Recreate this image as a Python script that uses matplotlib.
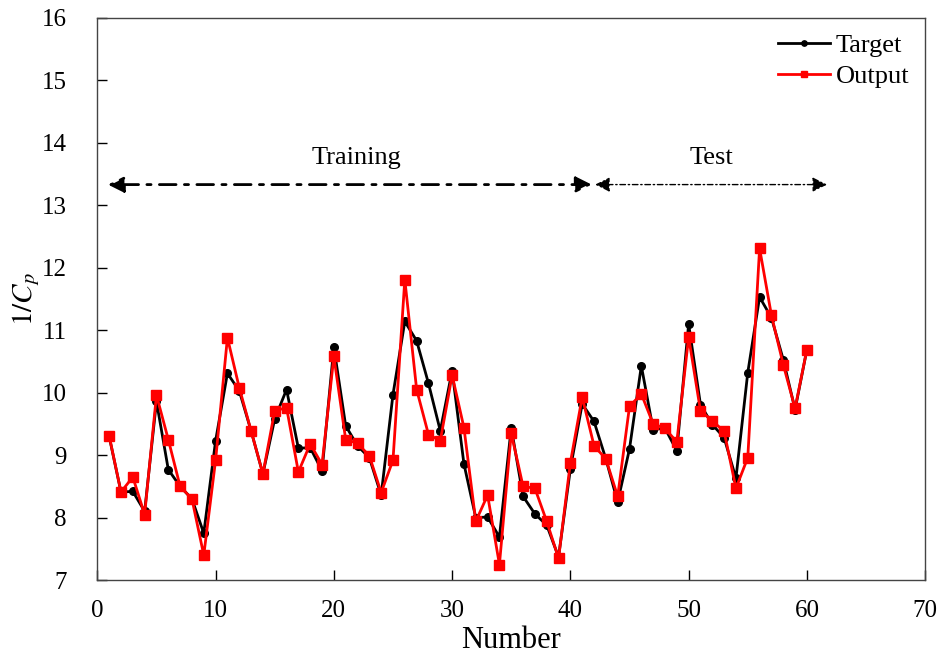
import numpy as np
import matplotlib
matplotlib.use("Agg")
import matplotlib.pyplot as plt

plt.rcParams['font.family'] = ['Liberation Serif', 'DejaVu Serif']
plt.rcParams['mathtext.fontset'] = 'stix'

# sample index 1..60
number = np.arange(1, 61)

target = [9.30, 8.41, 8.42, 8.10, 9.86, 8.77, 8.50, 8.30, 7.75, 9.23,
          10.31, 10.03, 9.39, 8.70, 9.58, 10.05, 9.11, 9.12, 8.75, 10.73,
          9.47, 9.15, 8.96, 8.36, 9.97, 11.14, 10.83, 10.15, 9.39, 10.35,
          8.86, 8.00, 8.01, 7.69, 9.44, 8.34, 8.06, 7.88, 7.37, 8.78,
          9.82, 9.54, 8.94, 8.25, 9.10, 10.43, 9.41, 9.43, 9.07, 11.10,
          9.81, 9.49, 9.28, 8.63, 10.32, 11.53, 11.20, 10.53, 9.73, 10.69]

output = [9.31, 8.41, 8.65, 8.05, 9.96, 9.25, 8.50, 8.30, 7.40, 8.92,
          10.88, 10.08, 9.39, 8.70, 9.71, 9.76, 8.73, 9.18, 8.85, 10.58,
          9.25, 9.19, 8.99, 8.40, 8.92, 11.81, 10.05, 9.33, 9.23, 10.28,
          9.44, 7.94, 8.36, 7.25, 9.35, 8.50, 8.47, 7.94, 7.35, 8.88,
          9.93, 9.15, 8.94, 8.34, 9.78, 9.98, 9.50, 9.43, 9.21, 10.89,
          9.71, 9.55, 9.38, 8.47, 8.96, 12.31, 11.24, 10.45, 9.75, 10.69]

fig = plt.figure(figsize=(9.45, 6.57), dpi=100)
ax = fig.add_axes([0.103, 0.117, 0.876, 0.856])

ax.plot(number, target, color='black', marker='o', markersize=5.5,
        linewidth=2.0, label='Target', zorder=3)
ax.plot(number, output, color='red', marker='s', markersize=6.5,
        linewidth=2.0, label='Output', zorder=4)

# training / test ranges
ax.annotate('', xy=(0.9, 13.33), xytext=(41.8, 13.33),
            arrowprops=dict(arrowstyle='<|-|>', color='black', lw=2.0,
                            linestyle=(0, (6, 3, 1.5, 3)), mutation_scale=24,
                            shrinkA=0, shrinkB=0))
ax.annotate('', xy=(42.1, 13.33), xytext=(61.7, 13.33),
            arrowprops=dict(arrowstyle='<|-|>', color='black', lw=1.0,
                            linestyle=(0, (4, 2, 1, 2)), mutation_scale=22,
                            shrinkA=0, shrinkB=0))
ax.text(21.9, 13.58, 'Training', ha='center', va='bottom', fontsize=19)
ax.text(51.9, 13.58, 'Test', ha='center', va='bottom', fontsize=19)

ax.set_xlim(0, 70)
ax.set_ylim(7, 16)
ax.set_xticks(np.arange(0, 71, 10))
ax.set_yticks(np.arange(7, 17, 1))
ax.tick_params(direction='in', length=7, width=1, labelsize=18)
ax.tick_params(axis='x', pad=14)
ax.tick_params(axis='y', pad=22)
for s in ax.spines.values():
    s.set_color('#444444')
    s.set_linewidth(1.0)

ax.set_xlabel('Number', fontsize=22, labelpad=3)
ax.set_ylabel(r'$1/C_p$', fontsize=21, labelpad=0)

ax.legend(loc='upper right', frameon=False, fontsize=19, handlelength=2.0,
          handletextpad=0.2, borderaxespad=0.2, labelspacing=0.3,
          markerscale=0.7)

fig.savefig('out.png', dpi=100)
